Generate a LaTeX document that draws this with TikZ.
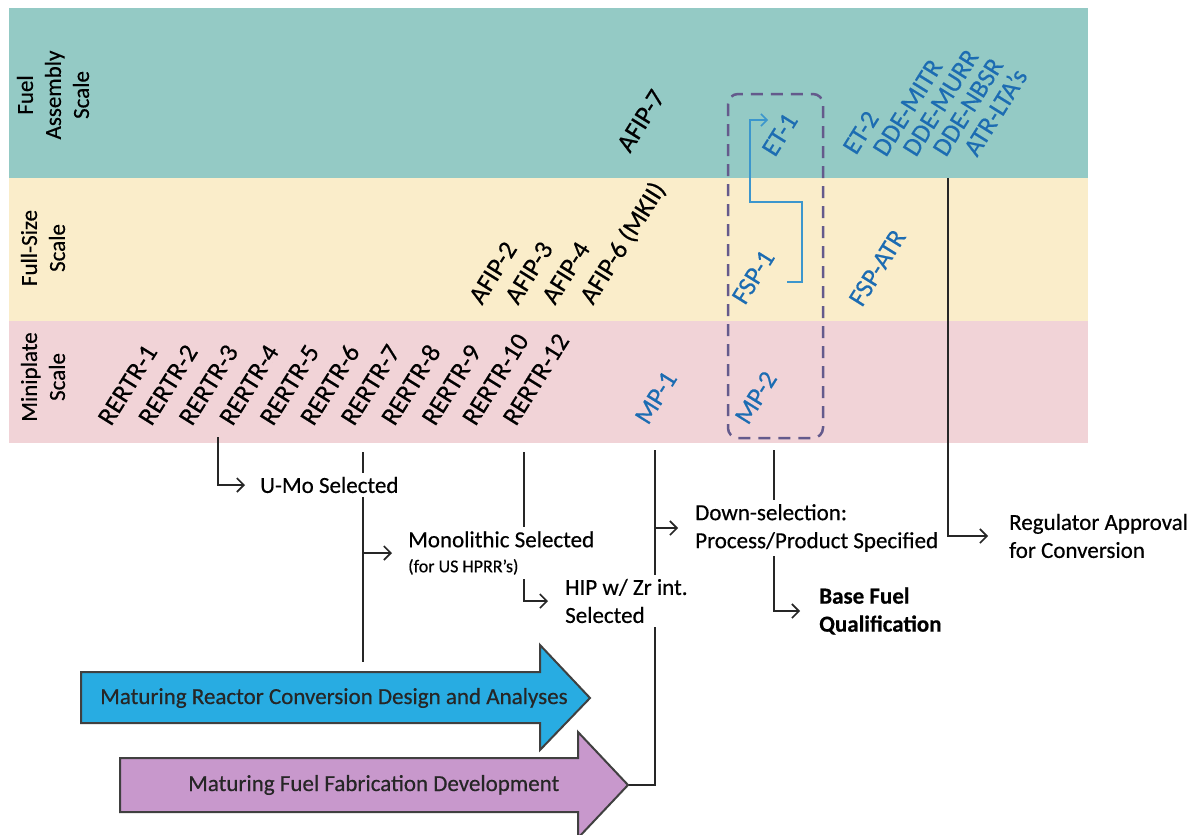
\documentclass[tikz,border=0pt]{standalone}
\usepackage{fontspec}
\setmainfont{Carlito}[FakeBold=0.5]
\usetikzlibrary{arrows.meta}
\definecolor{bandteal}{RGB}{148,202,197}
\definecolor{bandyellow}{RGB}{250,237,202}
\definecolor{bandpink}{RGB}{241,211,215}
\definecolor{labblue}{RGB}{28,108,178}
\definecolor{linkblue}{RGB}{60,150,205}
\definecolor{boxpurple}{RGB}{100,90,140}
\definecolor{arrblue}{RGB}{40,172,226}
\definecolor{arrpurple}{RGB}{200,152,204}
\pgfdeclarelayer{bg}
\pgfdeclarelayer{lines}
\pgfsetlayers{bg,lines,main}
\begin{document}
\begin{tikzpicture}[x=1pt,y=-1pt,
  rot/.style={rotate=58, anchor=base west, inner sep=0pt, font=\fontsize{26}{30}\selectfont},
  rotblue/.style={rot, text=labblue},
  scalelab/.style={rotate=90, align=center, font=\fontsize{23}{28}\selectfont, inner sep=0pt},
  txt/.style={align=left, anchor=west, fill=white, inner sep=4pt, font=\fontsize{23}{28}\selectfont},
  conn/.style={line width=1.6pt, draw=black!85},
  >={Straight Barb[length=7pt,width=14pt]},
  blockarrow/.style={draw=black!75, line width=2pt},
  arrtext/.style={anchor=west, inner sep=0pt, text=black!85, font=\fontsize{23}{28}\selectfont},
]
\useasboundingbox (0,0) rectangle (1194,835);
\begin{pgfonlayer}{bg}
\fill[white] (0,0) rectangle (1194,835);
\fill[bandteal] (9,8) rectangle (1088,178);
\fill[bandyellow] (9,178) rectangle (1088,321);
\fill[bandpink] (9,321) rectangle (1088,443);
\end{pgfonlayer}

% scale labels
\node[scalelab] (lfa) at (53,95) {Fuel\\Assembly\\Scale};
\node[scalelab] (lfs) at (43,248) {Full-Size\\Scale};
\node[scalelab] (lmp) at (43,377) {Miniplate\\Scale};

% miniplate tests
\foreach \t [count=\i from 0] in {RERTR-1,RERTR-2,RERTR-3,RERTR-4,RERTR-5,RERTR-6,RERTR-7,RERTR-8,RERTR-9,RERTR-10,RERTR-12}
  \node[rot] (r\i) at ({111+40.5*\i},427) {\t};

% full size / assembly tests
\node[rot] (afip2) at (482,306) {AFIP-2};
\node[rot] (afip3) at (518,306) {AFIP-3};
\node[rot] (afip4) at (555,306) {AFIP-4};
\node[rot] (afip6) at (593,306) {AFIP-6 (MKII)};
\node[rot] (afip7) at (630,154) {AFIP-7};

\node[rotblue] (mp1) at (648,426) {MP-1};
\node[rotblue] (mp2) at (748,426) {MP-2};
\node[rotblue] (fsp1) at (745,306) {FSP-1};
\node[rotblue] (et1) at (775,158) {ET-1};
\node[rotblue] (fspatr) at (862,308) {FSP-ATR};
\node[rotblue] (et2) at (856,156) {ET-2};
\node[rotblue] (ddemitr) at (886,158) {DDE-MITR};
\node[rotblue] (ddemurr) at (916,158) {DDE-MURR};
\node[rotblue] (ddenbsr) at (946,158) {DDE-NBSR};
\node[rotblue] (atrlta) at (977,158) {ATR-LTA’s};

% dashed grouping box
\draw[boxpurple, line width=2.5pt, dash pattern=on 12pt off 8pt, rounded corners=10pt] (728,94) rectangle (823,438);

% milestone texts
\node[txt] (umo) at (256,485) {U-Mo Selected};
\node[txt] (mono) at (404,553) {Monolithic Selected\\[-3pt]{\fontsize{18}{22}\selectfont (for US HPRR’s)}};
\node[txt] (hip) at (561,601) {HIP w/ Zr int.\\Selected};
\node[txt] (down) at (691,528) {Down-selection:\\Process/Product Specified};
\node[txt, font=\fontsize{23}{28}\selectfont\bfseries] (base) at (815,611) {Base Fuel\\Qualification};
\node[txt] (reg) at (1005,536) {Regulator Approval\\for Conversion};

% block arrows
\draw[blockarrow, fill=arrblue] (81,672) -- (540,672) -- (540,645) -- (590,698) -- (540,750) -- (540,723) -- (81,723) -- cycle;
\node[arrtext] (design) at (100,698) {Maturing Reactor Conversion Design and Analyses};
\draw[blockarrow, fill=arrpurple] (120,758) -- (578,758) -- (578,732) -- (628,785) -- (578,838) -- (578,812) -- (120,812) -- cycle;
\node[arrtext] (fab) at (188,785) {Maturing Fuel Fabrication Development};
\coordinate (purpleTip) at (628,785);

% connectors
\coordinate (umoTop) at (218,437);
\coordinate (monoTop) at (363,452);
\coordinate (monoBot) at (363,662);
\coordinate (hipTop) at (524,452);
\coordinate (dsTop) at (655,450);
\coordinate (bfTop) at (774,450);
\coordinate (regTop) at (948,178);
\coordinate (fsp1end) at (787,282);
\coordinate (et1start) at (768,120);
\begin{pgfonlayer}{lines}
\draw[conn,->] (umoTop) |- ([xshift=-11pt]umo.west);
\draw[conn] (monoTop) -- (monoBot);
\draw[conn,->] (monoTop |- mono.west) -- ([xshift=-12pt]mono.west);
\draw[conn,->] (hipTop) |- ([xshift=-13pt]hip.west);
\draw[conn] (dsTop) |- (purpleTip);
\draw[conn,->] (dsTop |- down.west) -- ([xshift=-13pt]down.west);
\draw[conn,->] (bfTop) |- ([xshift=-15pt]base.west);
\draw[conn,->] (regTop) |- ([xshift=-17pt]reg.west);
\draw[linkblue, line width=1.5pt, -{Straight Barb[length=6pt,width=12pt]}] (fsp1end) -- ++(15,0) -- ++(0,-80) -- ++(-52,0) |- (et1start);
\end{pgfonlayer}
\end{tikzpicture}
\end{document}
